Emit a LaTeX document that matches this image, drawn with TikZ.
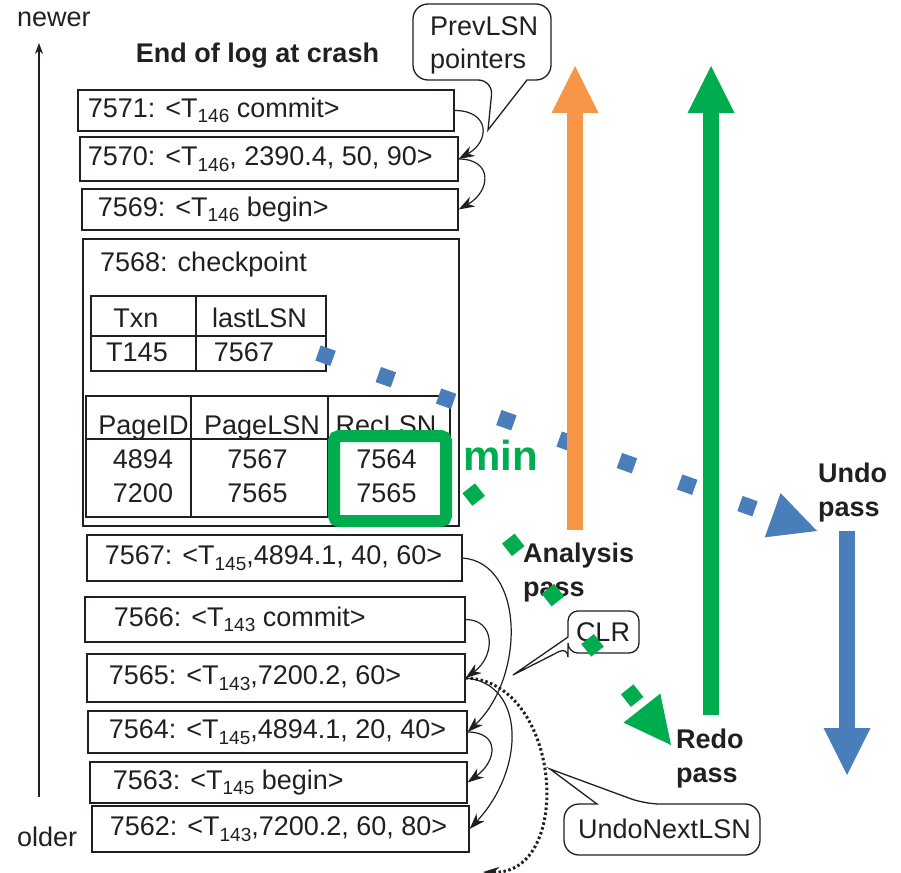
\documentclass[tikz,border=0pt]{standalone}
\usepackage{fontspec}
\setmainfont{Liberation Sans}
\usetikzlibrary{arrows.meta}
\definecolor{ink}{HTML}{231F20}
\definecolor{cgreen}{HTML}{00AD4E}
\definecolor{corange}{HTML}{F79646}
\definecolor{cblue}{HTML}{4A7EBB}
\newcommand\lsub[1]{\raisebox{-0.2em}{\fontsize{19}{19}\selectfont #1}}
\newcommand\lbox[2]{\makebox[#1pt][l]{#2}}
\begin{document}
\begin{tikzpicture}[x=1pt,y=-1pt,
  every node/.style={text=ink, inner sep=0pt, font=\fontsize{27}{33}\selectfont},
  logbox/.style={draw=ink, line width=1.6pt, anchor=west, inner ysep=0pt},
  link/.style={draw=ink, line width=1.2pt, -{Stealth[length=16pt,width=11pt,inset=5pt]}},
  tbl/.style={draw=ink, line width=1.3pt},
  bubble/.style={draw=ink, line width=1.3pt, fill=white},
  boldlbl/.style={font=\fontsize{27}{33}\selectfont\bfseries},
  dotsty/.style={line width=16pt, dash pattern=on 16pt off 48pt}
]
\useasboundingbox (0,0) rectangle (901,872);

% time axis
\coordinate (axb) at (39,797);
\coordinate (axt) at (39,43);
\draw[line width=1.2pt, ink, -{Stealth[length=11pt,width=8pt]}] (axb) -- (axt);
\node[anchor=base west] (newer) at (17,27) {newer};
\node[anchor=base west] (older) at (17,846) {older};
\node[anchor=base, boldlbl] (title) at (257.5,63) {End of log at crash};

% log records
\node[logbox, minimum height=41pt, inner xsep=10pt] (r7571) at (77,110.5) {\lbox{356}{7571: <T\lsub{146} commit>}};
\node[logbox, minimum height=44pt, inner xsep=8pt] (r7570) at (79,159) {\lbox{362}{7570: <T\lsub{146}, 2390.4, 50, 90>}};
\node[logbox, minimum height=41pt, inner xsep=16pt] (r7569) at (81,209.5) {\lbox{344}{7569: <T\lsub{146} begin>}};
\node[logbox, minimum height=46pt, inner xsep=18pt] (r7567) at (86,558) {\lbox{339}{7567: <T\lsub{145},4894.1, 40, 60>}};
\node[logbox, minimum height=45pt, inner xsep=29pt] (r7566) at (84,619.5) {\lbox{322}{7566: <T\lsub{143} commit>}};
\node[logbox, minimum height=48pt, inner xsep=22pt] (r7565) at (86,678) {\lbox{334}{7565: <T\lsub{143},7200.2, 60>}};
\node[logbox, minimum height=42pt, inner xsep=21pt] (r7564) at (87,732) {\lbox{337}{7564: <T\lsub{145},4894.1, 20, 40>}};
\node[logbox, minimum height=41pt, inner xsep=23pt] (r7563) at (89,782.5) {\lbox{331}{7563: <T\lsub{145} begin>}};
\node[logbox, minimum height=46pt, inner xsep=18pt] (r7562) at (91,829) {\lbox{341}{7562: <T\lsub{143},7200.2, 60, 80>}};

% checkpoint
\node[draw=ink, line width=1.6pt, minimum width=376pt, minimum height=287pt] (cp) at (271,382.5) {};
\node[anchor=base west] (cptitle) at (100,271) {7568: checkpoint};
\draw[tbl] (91,296) rectangle (326,371);
\draw[tbl] (91,336) -- (326,336);
\draw[tbl] (196,296) -- (196,371);
\node[anchor=base] (th1) at (136,327) {Txn};
\node[anchor=base] (th2) at (259.5,327) {lastLSN};
\node[anchor=base] (td1) at (137,361) {T145};
\node[anchor=base] (td2) at (244,361) {7567};
\draw[tbl] (86,396) rectangle (450,517);
\draw[tbl] (86,439) -- (450,439);
\draw[tbl] (191,396) -- (191,517);
\draw[tbl] (328,396) -- (328,517);
\node[anchor=base] (ph1) at (143.5,434) {PageID};
\node[anchor=base] (ph2) at (262,434) {PageLSN};
\node[anchor=base] (ph3) at (386,434) {RecLSN};
\node[draw=cgreen, line width=12pt, rounded corners=5pt, minimum width=112pt, minimum height=85pt] (minbox) at (390,478.5) {};
\node[anchor=base] (p1a) at (143,468) {4894};
\node[anchor=base] (p1b) at (257.5,468) {7567};
\node[anchor=base] (p1c) at (386.5,468) {7564};
\node[anchor=base] (p2a) at (143,502) {7200};
\node[anchor=base] (p2b) at (257.5,502) {7565};
\node[anchor=base] (p2c) at (386.5,502) {7565};
\node[anchor=base west, text=cgreen, font=\fontsize{42}{50}\selectfont\bfseries] (min) at (463,470) {min};

% PrevLSN pointers
\draw[link] (r7571.east) .. controls +(35,0) and +(32,-18) .. (r7570.east);
\draw[link] (r7570.east) .. controls +(35,0) and +(32,-18) .. (r7569.east);
\draw[link] (r7567.east) .. controls +(62,5) and +(58,-55) .. (r7564.east);
\draw[link] (r7566.east) .. controls +(30,0) and +(30,-22) .. (r7565.east);
\draw[link] (r7565.east) .. controls +(60,5) and +(56,-60) .. (r7562.east);
\draw[link] (r7564.east) .. controls +(32,0) and +(30,-22) .. (r7563.east);
% UndoNextLSN
\coordinate (unend) at (483,872);
\draw[ink, line width=3pt, dash pattern=on 2.5pt off 2.5pt, -{Stealth[length=16pt,width=11pt,inset=5pt]}] (r7565.east) .. controls +(96,2) and +(92,3) .. (unend);

% callouts
\draw[bubble] (493,80) -- (488,130) -- (527,80) [rounded corners=15pt] -- (551,80) -- (551,4) -- (413,4) -- (413,80) -- cycle;
\node[anchor=base west] (prev1) at (430,36) {PrevLSN};
\node[anchor=base west] (prev2) at (430,69) {pointers};
\draw[bubble] (568,647) -- (513,675) -- (568,637) [rounded corners=10pt] -- (568,611) -- (639,611) -- (639,653) -- (568,653) -- cycle;
\node (clr) at (603,632) {CLR};
\draw[bubble] (645,804) -- (550,769) -- (597,804) [rounded corners=15pt] -- (564,804) -- (564,855) -- (760,855) -- (760,804) -- cycle;
\node[anchor=west] (unl) at (578,829) {UndoNextLSN};

% undo dotted arrow
\coordinate (bs) at (318,353);
\coordinate (bb) at (772.8,515.2);
\coordinate (bt) at (817,531);
\draw[cblue, dotsty] (bs) -- (bb);
\fill[cblue] (bt) -- (780.6,493.1) -- (764.8,537.3) -- cycle;

% pass arrows
\coordinate (oa1) at (575,530);
\coordinate (oa2) at (575,112);
\draw[corange, line width=16pt] (oa1) -- (oa2);
\fill[corange] (575,66) -- (551.5,113) -- (598.5,113) -- cycle;
\coordinate (ga1) at (711,715);
\coordinate (ga2) at (711,112);
\draw[cgreen, line width=16pt] (ga1) -- (ga2);
\fill[cgreen] (711,66) -- (687.5,113) -- (734.5,113) -- cycle;
\coordinate (ba1) at (847,531);
\coordinate (ba2) at (847,729);
\draw[cblue, line width=16pt] (ba1) -- (ba2);
\fill[cblue] (847,775) -- (823.5,728) -- (870.5,728) -- cycle;

% labels
\node[anchor=base west, boldlbl] (an1) at (523,562) {Analysis};
\node[anchor=base west, boldlbl] (an2) at (523,596) {pass};
\node[anchor=base west, boldlbl] (un1) at (818,482) {Undo};
\node[anchor=base west, boldlbl] (un2) at (818,516) {pass};
\node[anchor=base west, boldlbl] (re1) at (676,748) {Redo};
\node[anchor=base west, boldlbl] (re2) at (676,782) {pass};

% redo dotted arrow
\coordinate (gs) at (468.7,488.3);
\coordinate (gb) at (641.9,708.0);
\coordinate (gt) at (671,745);
\draw[cgreen, dotsty] (gs) -- (gb);
\fill[cgreen] (gt) -- (623.5,722.6) -- (660.3,693.6) -- cycle;
\end{tikzpicture}
\end{document}
